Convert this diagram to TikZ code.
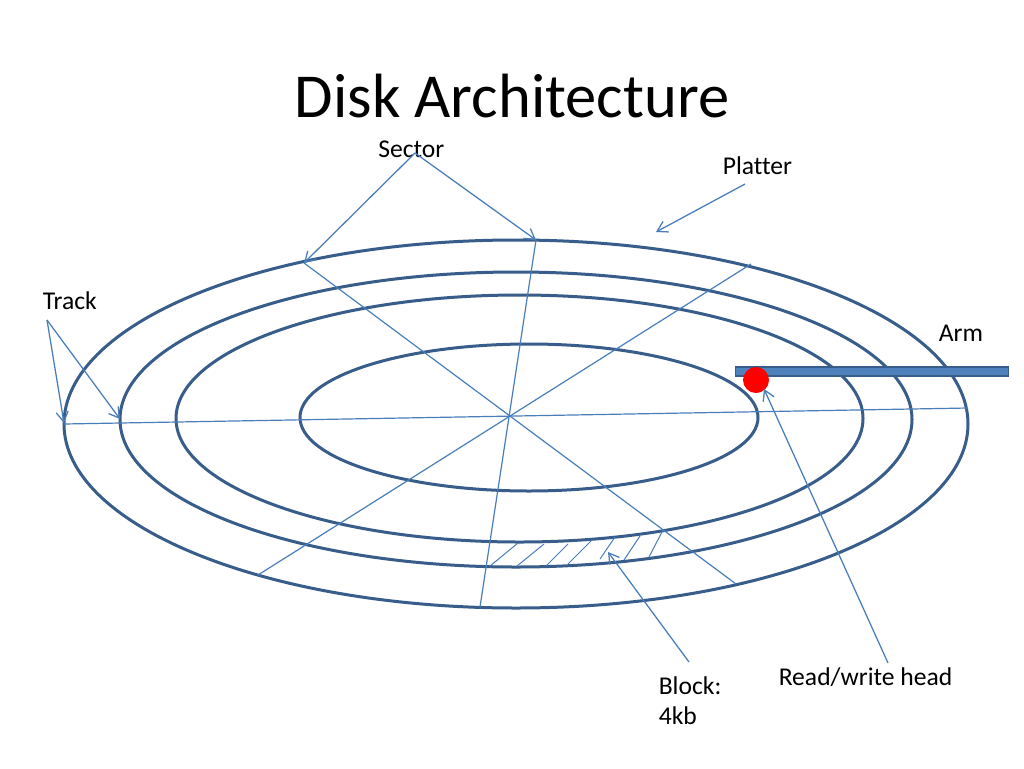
\documentclass[tikz,border=0pt]{standalone}
\usepackage{fontspec}
\setmainfont[Ligatures=NoCommon]{Carlito}
\usetikzlibrary{arrows.meta}
\definecolor{ringc}{HTML}{385D8A}
\definecolor{thinc}{HTML}{4A7EBB}
\definecolor{armc}{HTML}{4F81BD}
\tikzset{
 ring/.style={draw=ringc,line width=2.25pt},
 spoke/.style={draw=thinc,line width=0.9pt},
 hatchline/.style={draw=thinc,line width=0.75pt},
 pointer/.style={draw=thinc,line width=0.95pt,-{Straight Barb[length=7.5pt,width=9pt,line width=0.95pt]}},
 label/.style={font=\fontsize{19.2}{23}\selectfont,inner sep=0pt,anchor=west,text=black},
}
\begin{document}
\begin{tikzpicture}[x=0.75pt,y=-0.75pt]
\useasboundingbox[fill=white] (0,0) rectangle (1024,768);
% rings
\draw[ring] (516,424) ellipse [x radius=452,y radius=184];
\draw[ring] (516,419.5) ellipse [x radius=396,y radius=147.5];
\draw[ring] (519.5,418.5) ellipse [x radius=343.5,y radius=123.5];
\draw[ring] (529,417.5) ellipse [x radius=229,y radius=73.5];
% spokes
\coordinate (s1a) at (64,424);  \coordinate (s1b) at (968,408);
\coordinate (s2a) at (304,263); \coordinate (s2b) at (736,584);
\coordinate (s3a) at (536,240); \coordinate (s3b) at (480,607);
\coordinate (s4a) at (751,264); \coordinate (s4b) at (258,575);
\draw[spoke] (s1a) -- (s1b);
\draw[spoke] (s2a) -- (s2b);
\draw[spoke] (s3a) -- (s3b);
\draw[spoke] (s4a) -- (s4b);
% block hatching
\foreach \i/\xa/\ya/\xb/\yb in {1/490/566/518/543,2/517/566/544/544,3/546/566/568/544,4/568/564/592/540,5/600/559/615/537,6/624/560/640/536,7/649/557/663/530}{
  \coordinate (h\i a) at (\xa,\ya);
  \coordinate (h\i b) at (\xb,\yb);
  \draw[hatchline] (h\i a) -- (h\i b);
}
% arm and head
\node[draw=ringc,fill=armc,line width=0.9pt,minimum width=204.5pt,minimum height=6.8pt,inner sep=0pt,anchor=center] (arm) at (872,371.5) {};
\node[circle,fill=red,minimum size=19.5pt,inner sep=0pt] (head) at (756,380) {};
% title and labels
\node[font=\fontsize{46.9}{56}\selectfont,inner sep=0pt,text=black] (title) at (512,96) {Disk Architecture};
\node[label] (sector) at (378,149) {Sector};
\node[label] (platter) at (722.5,165.5) {Platter};
\node[label] (track) at (42.5,301) {Track};
\node[label] (armlabel) at (938.5,333.5) {Arm};
\node[label] (rw) at (778.5,677) {Read/write head};
\node[label] (block) at (658.5,685.5) {Block:};
\node[label] (blockb) at (658.5,716) {4kb};
% pointers
\coordinate (secfoot) at (415,153);
\coordinate (platfoot) at (745,184);
\coordinate (platend) at (656,232);
\coordinate (trackfoot) at (47,320);
\coordinate (trackend1) at (64,423);
\coordinate (trackend2) at (120,419);
\coordinate (blockfoot) at (689,662);
\coordinate (blockend) at (608,552);
\coordinate (rwfoot) at (888,663);
\coordinate (rwend) at (764,389);
\draw[pointer] (secfoot) -- (s2a);
\draw[pointer] (secfoot) -- (s3a);
\draw[pointer] (platfoot) -- (platend);
\draw[pointer] (trackfoot) -- (trackend1);
\draw[pointer] (trackfoot) -- (trackend2);
\draw[pointer] (blockfoot) -- (blockend);
\draw[pointer] (rwfoot) -- (rwend);
\end{tikzpicture}
\end{document}
